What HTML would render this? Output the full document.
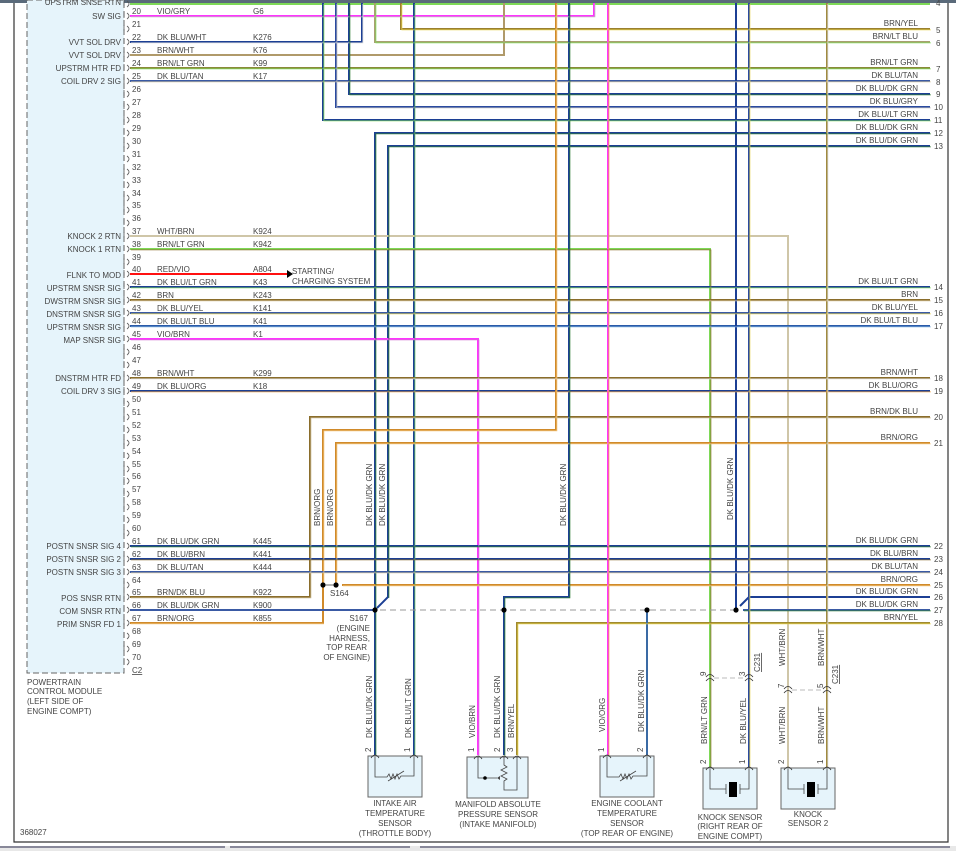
<!DOCTYPE html>
<html><head><meta charset="utf-8"><style>
html,body{margin:0;padding:0;background:#fff;}
svg{display:block;}
text{font-family:"Liberation Sans",sans-serif;font-size:8px;fill:#444;}
.r{text-anchor:end;}
.m{text-anchor:middle;}
.w{fill:none;stroke-width:2;}
.s{fill:none;stroke-width:0.8;}
</style></head><body>
<svg width="956" height="851" viewBox="0 0 956 851" xmlns="http://www.w3.org/2000/svg">
<defs>
<g id="pc"><path d="M124 -4 V2" stroke="#555" stroke-width="0.8" fill="none"/><path d="M127 -3 Q131 0 127 3" stroke="#555" stroke-width="0.8" fill="none"/></g>
<path id="sp" d="M-4 3 Q0 -3 4 3" stroke="#333" stroke-width="0.8" fill="none"/>
</defs>
<rect x="0" y="0" width="956" height="3" fill="#5a6a7a"/>
<path d="M14 3 V842 H948 V3" stroke="#333" stroke-width="1.2" fill="none"/>
<rect x="0" y="846" width="956" height="5" fill="#e8e8e8"/>
<rect x="0" y="846" width="225" height="2" fill="#889"/>
<rect x="230" y="846" width="180" height="2" fill="#889"/>
<rect x="420" y="846" width="530" height="2" fill="#889"/>

<!-- PCM box -->
<rect x="27" y="0" width="97" height="673" fill="#e6f4fb" stroke="#666" stroke-width="1" stroke-dasharray="6,3"/>

<!-- wires main -->
<g class="w">
<path d="M130 4 H930" stroke="#7ed957"/>
<path d="M130 16 H594 V3" stroke="#ff33ff"/>
<path d="M130 42 H362 V3" stroke="#1c3f94"/>
<path d="M130 55 H504 V3" stroke="#b09a6a"/>
<path d="M130 68 H930" stroke="#8a8a3a"/>
<path d="M130 81 H930" stroke="#3a5aa4"/>
<path d="M401 3 V29 H930" stroke="#9a8030"/>
<path d="M375 3 V42 H930" stroke="#a8a070"/>
<path d="M349 3 V94 H930" stroke="#1c3f94"/>
<path d="M336 3 V107 H930" stroke="#2a4aa0"/>
<path d="M323 3 V120 H930" stroke="#1c3f94"/>
<path d="M930 133 H375 V755" stroke="#1c3f94"/>
<path d="M930 146 H388 V597 L377 608" stroke="#1c3f94"/>
<path d="M414 3 V755" stroke="#1c3f94"/>
<path d="M130 236 H788 V768" stroke="#cfc6a8"/>
<path d="M130 249 H710 V768" stroke="#7ed957"/>
<path d="M130 274 H287" stroke="#ff1010"/>
<path d="M130 287 H930" stroke="#1c3f94"/>
<path d="M130 300 H930" stroke="#8a6d2b"/>
<path d="M130 313 H930" stroke="#3a5aa4"/>
<path d="M130 326 H930" stroke="#2a5aa8"/>
<path d="M130 339 H478 V755" stroke="#ff33ff"/>
<path d="M130 378 H930" stroke="#8a6d2b"/>
<path d="M130 391 H930" stroke="#1c3f94"/>
<path d="M930 417 H310 V597 H130" stroke="#8a6d2b"/>
<path d="M556 3 V430 H323 V585" stroke="#d08a2a"/>
<path d="M130 623 H323 V585" stroke="#d08a2a"/>
<path d="M930 443 H336 V585" stroke="#d08a2a"/>
<path d="M342 585 H930" stroke="#d08a2a"/>
<path d="M130 546 H930" stroke="#1c3f94"/>
<path d="M130 559 H930" stroke="#1c3f94"/>
<path d="M130 572 H930" stroke="#3a5aa4"/>
<path d="M130 610 H375" stroke="#3a5aa4"/>
<path d="M569 3 V597 H504 V755" stroke="#1c3f94"/>
<path d="M930 623 H517 V755" stroke="#a08a30"/>
<path d="M608 3 V755" stroke="#ff33ff"/>
<path d="M647 610 V755" stroke="#3a6aa4"/>
<path d="M736 3 V610" stroke="#1c3f94"/>
<path d="M743 610 H930" stroke="#3a5aa4"/>
<path d="M930 597 H749 L740 606" stroke="#1c3f94"/>
<path d="M749 3 V768" stroke="#2a4aa0"/>
<path d="M827 3 V768" stroke="#a08a40"/>
</g>
<!-- stripes -->
<g class="s" transform="translate(0.9,0.9)">
<path d="M130 16 H594 V3" stroke="#bbb"/>
<path d="M130 42 H362 V3" stroke="#ddd"/>
<path d="M130 68 H930" stroke="#7ed957"/>
<path d="M130 81 H930" stroke="#d8c8a0"/>
<path d="M401 3 V29 H930" stroke="#e8d44d"/>
<path d="M375 3 V42 H930" stroke="#7ed957"/>
<path d="M349 3 V94 H930" stroke="#2e7d32"/>
<path d="M336 3 V107 H930" stroke="#bbb"/>
<path d="M323 3 V120 H930" stroke="#7ed957"/>
<path d="M930 133 H375 V755" stroke="#2e7d32"/>
<path d="M930 146 H388 V597" stroke="#2e7d32"/>
<path d="M414 3 V755" stroke="#5cb85c"/>
<path d="M130 249 H710 V768" stroke="#8a6d2b"/>
<path d="M130 287 H930" stroke="#7ed957"/>
<path d="M130 300 H930" stroke="#d8c8a0"/>
<path d="M130 313 H930" stroke="#e8d44d"/>
<path d="M130 326 H930" stroke="#7fb0e0"/>
<path d="M130 339 H478 V755" stroke="#d070d0"/>
<path d="M130 378 H930" stroke="#ddd"/>
<path d="M130 391 H930" stroke="#f0a040"/>
<path d="M930 417 H310 V597 H130" stroke="#c8b890"/>
<path d="M556 3 V430 H323 V585" stroke="#f5c880"/>
<path d="M130 623 H323" stroke="#f5c880"/>
<path d="M930 443 H336 V585" stroke="#f5c880"/>
<path d="M342 585 H930" stroke="#f5c880"/>
<path d="M130 546 H930" stroke="#2e7d32"/>
<path d="M130 559 H930" stroke="#8a6d2b"/>
<path d="M130 572 H930" stroke="#d8c8a0"/>
<path d="M569 3 V597 H504 V755" stroke="#2e7d32"/>
<path d="M930 623 H517 V755" stroke="#e8d44d"/>
<path d="M608 3 V755" stroke="#f0a040"/>
<path d="M743 610 H930" stroke="#2e7d32"/>
<path d="M749 3 V768" stroke="#e8d44d"/>
<path d="M827 3 V768" stroke="#ddd"/>
</g>
<path d="M287 270 L293 274 L287 278 Z" fill="#000"/>
<path d="M380 610 H740" stroke="#999" stroke-width="1" stroke-dasharray="6,4" fill="none"/>
<g fill="#000"><circle cx="323" cy="585" r="2.6"/><circle cx="336" cy="585" r="2.6"/><circle cx="375" cy="610" r="2.6"/><circle cx="504" cy="610" r="2.6"/><circle cx="647" cy="610" r="2.6"/><circle cx="736" cy="610" r="2.6"/></g>
<path d="M325 585 H334" stroke="#444" stroke-width="0.8"/>

<!-- connector glyphs -->
<g>
<use href="#pc" y="4"/><use href="#pc" y="16"/><use href="#pc" y="29"/><use href="#pc" y="42"/><use href="#pc" y="55"/><use href="#pc" y="68"/><use href="#pc" y="81"/><use href="#pc" y="94"/><use href="#pc" y="107"/><use href="#pc" y="120"/><use href="#pc" y="133"/><use href="#pc" y="146"/><use href="#pc" y="159"/><use href="#pc" y="172"/><use href="#pc" y="185"/><use href="#pc" y="198"/><use href="#pc" y="210"/><use href="#pc" y="223"/><use href="#pc" y="236"/><use href="#pc" y="249"/><use href="#pc" y="262"/><use href="#pc" y="274"/><use href="#pc" y="287"/><use href="#pc" y="300"/><use href="#pc" y="313"/><use href="#pc" y="326"/><use href="#pc" y="339"/><use href="#pc" y="352"/><use href="#pc" y="365"/><use href="#pc" y="378"/><use href="#pc" y="391"/><use href="#pc" y="404"/><use href="#pc" y="417"/><use href="#pc" y="430"/><use href="#pc" y="443"/><use href="#pc" y="456"/><use href="#pc" y="469"/><use href="#pc" y="481"/><use href="#pc" y="494"/><use href="#pc" y="507"/><use href="#pc" y="520"/><use href="#pc" y="533"/><use href="#pc" y="546"/><use href="#pc" y="559"/><use href="#pc" y="572"/><use href="#pc" y="585"/><use href="#pc" y="597"/><use href="#pc" y="610"/><use href="#pc" y="623"/><use href="#pc" y="636"/><use href="#pc" y="649"/><use href="#pc" y="662"/>
</g>
<!-- pin numbers -->
<g>
<text x="132" y="14">20</text><text x="132" y="27">21</text><text x="132" y="40">22</text><text x="132" y="53">23</text><text x="132" y="66">24</text><text x="132" y="79">25</text><text x="132" y="92">26</text><text x="132" y="105">27</text><text x="132" y="118">28</text><text x="132" y="131">29</text><text x="132" y="144">30</text><text x="132" y="157">31</text><text x="132" y="170">32</text><text x="132" y="183">33</text><text x="132" y="196">34</text><text x="132" y="208">35</text><text x="132" y="221">36</text><text x="132" y="234">37</text><text x="132" y="247">38</text><text x="132" y="260">39</text><text x="132" y="272">40</text><text x="132" y="285">41</text><text x="132" y="298">42</text><text x="132" y="311">43</text><text x="132" y="324">44</text><text x="132" y="337">45</text><text x="132" y="350">46</text><text x="132" y="363">47</text><text x="132" y="376">48</text><text x="132" y="389">49</text><text x="132" y="402">50</text><text x="132" y="415">51</text><text x="132" y="428">52</text><text x="132" y="441">53</text><text x="132" y="454">54</text><text x="132" y="467">55</text><text x="132" y="479">56</text><text x="132" y="492">57</text><text x="132" y="505">58</text><text x="132" y="518">59</text><text x="132" y="531">60</text><text x="132" y="544">61</text><text x="132" y="557">62</text><text x="132" y="570">63</text><text x="132" y="583">64</text><text x="132" y="595">65</text><text x="132" y="608">66</text><text x="132" y="621">67</text><text x="132" y="634">68</text><text x="132" y="647">69</text><text x="132" y="660">70</text>
<text x="132" y="673" text-decoration="underline">C2</text>
</g>
<!-- left labels -->
<g class="r">
<text x="121" y="5">UPSTRM SNSE RTN</text>
<text x="121" y="19">SW SIG</text>
<text x="121" y="45">VVT SOL DRV</text>
<text x="121" y="58">VVT SOL DRV</text>
<text x="121" y="71">UPSTRM HTR FD</text>
<text x="121" y="84">COIL DRV 2 SIG</text>
<text x="121" y="239">KNOCK 2 RTN</text>
<text x="121" y="252">KNOCK 1 RTN</text>
<text x="121" y="278">FLNK TO MOD</text>
<text x="121" y="291">UPSTRM SNSR SIG</text>
<text x="121" y="304">DWSTRM SNSR SIG</text>
<text x="121" y="317">DNSTRM SNSR SIG</text>
<text x="121" y="330">UPSTRM SNSR SIG</text>
<text x="121" y="343">MAP SNSR SIG</text>
<text x="121" y="381">DNSTRM HTR FD</text>
<text x="121" y="394">COIL DRV 3 SIG</text>
<text x="121" y="549">POSTN SNSR SIG 4</text>
<text x="121" y="562">POSTN SNSR SIG 2</text>
<text x="121" y="575">POSTN SNSR SIG 3</text>
<text x="121" y="601">POS SNSR RTN</text>
<text x="121" y="614">COM SNSR RTN</text>
<text x="121" y="627">PRIM SNSR FD 1</text>
</g>
<!-- wire labels -->
<g>
<text x="157" y="14">VIO/GRY</text><text x="253" y="14">G6</text>
<text x="157" y="40">DK BLU/WHT</text><text x="253" y="40">K276</text>
<text x="157" y="53">BRN/WHT</text><text x="253" y="53">K76</text>
<text x="157" y="66">BRN/LT GRN</text><text x="253" y="66">K99</text>
<text x="157" y="79">DK BLU/TAN</text><text x="253" y="79">K17</text>
<text x="157" y="234">WHT/BRN</text><text x="253" y="234">K924</text>
<text x="157" y="247">BRN/LT GRN</text><text x="253" y="247">K942</text>
<text x="157" y="272">RED/VIO</text><text x="253" y="272">A804</text>
<text x="157" y="285">DK BLU/LT GRN</text><text x="253" y="285">K43</text>
<text x="157" y="298">BRN</text><text x="253" y="298">K243</text>
<text x="157" y="311">DK BLU/YEL</text><text x="253" y="311">K141</text>
<text x="157" y="324">DK BLU/LT BLU</text><text x="253" y="324">K41</text>
<text x="157" y="337">VIO/BRN</text><text x="253" y="337">K1</text>
<text x="157" y="376">BRN/WHT</text><text x="253" y="376">K299</text>
<text x="157" y="389">DK BLU/ORG</text><text x="253" y="389">K18</text>
<text x="157" y="544">DK BLU/DK GRN</text><text x="253" y="544">K445</text>
<text x="157" y="557">DK BLU/BRN</text><text x="253" y="557">K441</text>
<text x="157" y="570">DK BLU/TAN</text><text x="253" y="570">K444</text>
<text x="157" y="595">BRN/DK BLU</text><text x="253" y="595">K922</text>
<text x="157" y="608">DK BLU/DK GRN</text><text x="253" y="608">K900</text>
<text x="157" y="621">BRN/ORG</text><text x="253" y="621">K855</text>
<text x="292" y="274">STARTING/</text>
<text x="292" y="284">CHARGING SYSTEM</text>
</g>
<!-- right labels -->
<g class="r">
<text x="918" y="26">BRN/YEL</text><text x="918" y="39">BRN/LT BLU</text>
<text x="918" y="65">BRN/LT GRN</text><text x="918" y="78">DK BLU/TAN</text>
<text x="918" y="91">DK BLU/DK GRN</text><text x="918" y="104">DK BLU/GRY</text>
<text x="918" y="117">DK BLU/LT GRN</text><text x="918" y="130">DK BLU/DK GRN</text>
<text x="918" y="143">DK BLU/DK GRN</text>
<text x="918" y="284">DK BLU/LT GRN</text><text x="918" y="297">BRN</text>
<text x="918" y="310">DK BLU/YEL</text><text x="918" y="323">DK BLU/LT BLU</text>
<text x="918" y="375">BRN/WHT</text><text x="918" y="388">DK BLU/ORG</text>
<text x="918" y="414">BRN/DK BLU</text><text x="918" y="440">BRN/ORG</text>
<text x="918" y="543">DK BLU/DK GRN</text><text x="918" y="556">DK BLU/BRN</text>
<text x="918" y="569">DK BLU/TAN</text><text x="918" y="582">BRN/ORG</text>
<text x="918" y="594">DK BLU/DK GRN</text><text x="918" y="607">DK BLU/DK GRN</text>
<text x="918" y="620">BRN/YEL</text>
</g>
<g>
<text x="936" y="6">4</text>
<text x="936" y="33">5</text><text x="936" y="46">6</text><text x="936" y="72">7</text><text x="936" y="85">8</text><text x="936" y="97">9</text><text x="934" y="110">10</text><text x="934" y="123">11</text><text x="934" y="136">12</text><text x="934" y="149">13</text>
<text x="934" y="290">14</text><text x="934" y="303">15</text><text x="934" y="316">16</text><text x="934" y="329">17</text><text x="934" y="381">18</text><text x="934" y="394">19</text><text x="934" y="420">20</text><text x="934" y="446">21</text>
<text x="934" y="549">22</text><text x="934" y="562">23</text><text x="934" y="575">24</text><text x="934" y="588">25</text><text x="934" y="600">26</text><text x="934" y="613">27</text><text x="934" y="626">28</text>
</g>
<!-- rotated mid labels -->
<g>
<text transform="translate(320,526) rotate(-90)">BRN/ORG</text>
<text transform="translate(333,526) rotate(-90)">BRN/ORG</text>
<text transform="translate(372,526) rotate(-90)">DK BLU/DK GRN</text>
<text transform="translate(385,526) rotate(-90)">DK BLU/DK GRN</text>
<text transform="translate(566,526) rotate(-90)">DK BLU/DK GRN</text>
<text transform="translate(733,520) rotate(-90)">DK BLU/DK GRN</text>
</g>
<text x="330" y="596">S164</text>
<g class="r">
<text x="368" y="621">S167</text>
<text x="370" y="631">(ENGINE</text>
<text x="370" y="641">HARNESS,</text>
<text x="367" y="650">TOP REAR</text>
<text x="370" y="660">OF ENGINE)</text>
</g>
<g>
<text x="27" y="685">POWERTRAIN</text>
<text x="27" y="694">CONTROL MODULE</text>
<text x="27" y="704">(LEFT SIDE OF</text>
<text x="27" y="714">ENGINE COMPT)</text>
<text x="20" y="835">368027</text>
</g>
<!-- sensor wire labels -->
<g>
<text transform="translate(372,738) rotate(-90)">DK BLU/DK GRN</text>
<text transform="translate(411,738) rotate(-90)">DK BLU/LT GRN</text>
<text transform="translate(475,738) rotate(-90)">VIO/BRN</text>
<text transform="translate(500,738) rotate(-90)">DK BLU/DK GRN</text>
<text transform="translate(514,738) rotate(-90)">BRN/YEL</text>
<text transform="translate(605,732) rotate(-90)">VIO/ORG</text>
<text transform="translate(644,732) rotate(-90)">DK BLU/DK GRN</text>
<text transform="translate(707,744) rotate(-90)">BRN/LT GRN</text>
<text transform="translate(746,744) rotate(-90)">DK BLU/YEL</text>
<text transform="translate(785,744) rotate(-90)">WHT/BRN</text>
<text transform="translate(824,744) rotate(-90)">BRN/WHT</text>
<text transform="translate(785,666) rotate(-90)">WHT/BRN</text>
<text transform="translate(824,666) rotate(-90)">BRN/WHT</text>
<text transform="translate(371,752) rotate(-90)">2</text>
<text transform="translate(410,752) rotate(-90)">1</text>
<text transform="translate(474,752) rotate(-90)">1</text>
<text transform="translate(500,752) rotate(-90)">2</text>
<text transform="translate(513,752) rotate(-90)">3</text>
<text transform="translate(604,752) rotate(-90)">1</text>
<text transform="translate(643,752) rotate(-90)">2</text>
<text transform="translate(706,764) rotate(-90)">2</text>
<text transform="translate(745,764) rotate(-90)">1</text>
<text transform="translate(784,764) rotate(-90)">2</text>
<text transform="translate(823,764) rotate(-90)">1</text>
<text transform="translate(706,676) rotate(-90)">9</text>
<text transform="translate(745,676) rotate(-90)">3</text>
<text transform="translate(784,688) rotate(-90)">7</text>
<text transform="translate(823,688) rotate(-90)">5</text>
<text transform="translate(760,672) rotate(-90)" text-decoration="underline">C231</text>
<text transform="translate(838,684) rotate(-90)" text-decoration="underline">C231</text>
</g>
<!-- C231 connectors -->
<path d="M714 678 H745" stroke="#bbb" stroke-width="1" stroke-dasharray="5,3"/>
<path d="M792 690 H823" stroke="#bbb" stroke-width="1" stroke-dasharray="5,3"/>
<g stroke="#333" stroke-width="0.8" fill="none">
<path d="M706 677 Q710 672 714 677 M706 681 Q710 676 714 681"/>
<path d="M745 677 Q749 672 753 677 M745 681 Q749 676 753 681"/>
<path d="M784 689 Q788 684 792 689 M784 693 Q788 688 792 693"/>
<path d="M823 689 Q827 684 831 689 M823 693 Q827 688 831 693"/>
</g>
<!-- sensors -->
<g fill="#e6f4fb" stroke="#666" stroke-width="1">
<rect x="368" y="756" width="54" height="41"/>
<rect x="467" y="757" width="61" height="41"/>
<rect x="600" y="756" width="54" height="41"/>
<rect x="703" y="768" width="54" height="41"/>
<rect x="781" y="768" width="54" height="41"/>
</g>
<g stroke="#444" stroke-width="0.8" fill="none">
<path d="M375 757 V777 H387 l2 -3 l2 5 l2 -5 l2 5 l2 -5 l2 5 l2 -3 H414 V757 M388 781 L404 771"/>
<path d="M478 757 V778 H497 M504 757 V765 l3 2 l-6 3 l6 3 l-6 3 l6 3 l-3 2 V790 H517 V757"/>
<path d="M607 757 V777 H619 l2 -3 l2 5 l2 -5 l2 5 l2 -5 l2 5 l2 -3 H647 V757 M620 781 L636 771"/>
<path d="M710 769 V789 H726 M726 784 V794 M740 784 V794 M740 789 H749 V769"/>
<path d="M788 769 V789 H804 M804 784 V794 M818 784 V794 M818 789 H827 V769"/>
</g>
<path d="M497 778 l3 -2 v4 z" fill="#444"/>
<circle cx="485" cy="778" r="1.8" fill="#000"/>
<rect x="729" y="782" width="8" height="15" fill="#000"/>
<rect x="807" y="782" width="8" height="15" fill="#000"/>
<g>
<use href="#sp" x="375" y="755"/><use href="#sp" x="414" y="755"/>
<use href="#sp" x="478" y="756"/><use href="#sp" x="504" y="756"/><use href="#sp" x="517" y="756"/>
<use href="#sp" x="607" y="755"/><use href="#sp" x="647" y="755"/>
<use href="#sp" x="710" y="767"/><use href="#sp" x="749" y="767"/>
<use href="#sp" x="788" y="767"/><use href="#sp" x="827" y="767"/>
</g>
<g class="m">
<text x="395" y="806">INTAKE AIR</text>
<text x="395" y="816">TEMPERATURE</text>
<text x="395" y="826">SENSOR</text>
<text x="395" y="836">(THROTTLE BODY)</text>
<text x="498" y="807">MANIFOLD ABSOLUTE</text>
<text x="498" y="817">PRESSURE SENSOR</text>
<text x="498" y="827">(INTAKE MANIFOLD)</text>
<text x="627" y="806">ENGINE COOLANT</text>
<text x="627" y="816">TEMPERATURE</text>
<text x="627" y="826">SENSOR</text>
<text x="627" y="836">(TOP REAR OF ENGINE)</text>
<text x="730" y="820">KNOCK SENSOR</text>
<text x="730" y="829">(RIGHT REAR OF</text>
<text x="730" y="839">ENGINE COMPT)</text>
<text x="808" y="817">KNOCK</text>
<text x="808" y="826">SENSOR 2</text>
</g>
</svg>
</body></html>
